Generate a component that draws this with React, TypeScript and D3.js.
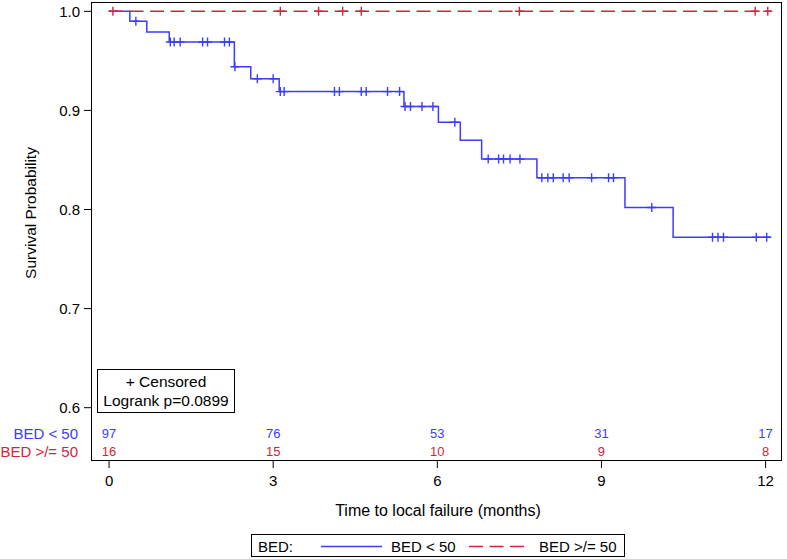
import React from "react";
import * as d3 from "d3";

// ---- data ----
const blueEventTimes = [0.38, 0.69, 1.10, 2.29, 2.59, 3.11, 5.39, 6.02, 6.42, 6.81, 7.82, 9.43, 10.31];
const blueSurvival = [0.990, 0.979, 0.969, 0.944, 0.932, 0.919, 0.904, 0.888, 0.870, 0.851, 0.832, 0.802, 0.772];
const blueCensorTimes = [
  0.49, 1.12, 1.19, 1.30, 1.71, 1.80, 2.11, 2.20, 2.30, 2.71, 3.00, 3.13, 3.20, 4.12, 4.21,
  4.61, 4.70, 5.09, 5.31, 5.41, 5.51, 5.72, 5.92, 6.32, 6.93, 7.12, 7.21, 7.33, 7.51, 7.91,
  8.02, 8.12, 8.30, 8.41, 8.82, 9.13, 9.22, 9.92, 11.03, 11.13, 11.23, 11.83, 12.02,
];
const redEventTimes: number[] = [];
const redSurvival: number[] = [];
const redCensorTimes = [0.07, 3.13, 3.83, 4.27, 4.61, 7.50, 11.81, 12.04];
const followUpEnd = 12.1;

const xTicks = [0, 3, 6, 9, 12];
const yTicks = [0.6, 0.7, 0.8, 0.9, 1.0];
const atRiskBlue = [97, 76, 53, 31, 17];
const atRiskRed = [16, 15, 10, 9, 8];
const groupLabels = ["BED < 50", "BED >/= 50"];
const logrankText = "Logrank p=0.0899";

const BLUE = "#3c3cff";
const RED = "#d0263a";
const FONT = "'Liberation Sans', Arial, sans-serif";

function stepPoints(times: number[], surv: number[], end: number): [number, number][] {
  const pts: [number, number][] = [[0, 1]];
  let s = 1;
  times.forEach((t, i) => {
    pts.push([t, s]);
    s = surv[i];
    pts.push([t, s]);
  });
  pts.push([end, s]);
  return pts;
}

function survAt(times: number[], surv: number[], t: number): number {
  let s = 1;
  times.forEach((et, i) => {
    if (et <= t) s = surv[i];
  });
  return s;
}

export default function App() {
  const W = 787;
  const H = 559;
  const left = 91, right = 782, top = 2, bottom = 461;

  const x = d3.scaleLinear().domain([-0.33, 12.3]).range([left, right]);
  const y = d3.scaleLinear().domain([0.5462, 1.0094]).range([bottom, top]);

  const line = d3
    .line<[number, number]>()
    .x((d) => x(d[0]))
    .y((d) => y(d[1]));

  const bluePath = line(stepPoints(blueEventTimes, blueSurvival, followUpEnd)) || "";
  const redPath = line(stepPoints(redEventTimes, redSurvival, followUpEnd)) || "";

  const cs = 4.5;
  const censorMark = (t: number, s: number, color: string, key: string) => {
    const cx = x(t);
    const cy = y(s);
    return (
      <path
        key={key}
        d={`M${cx - cs},${cy}H${cx + cs}M${cx},${cy - cs}V${cy + cs}`}
        stroke={color}
        strokeWidth={1.4}
        fill="none"
      />
    );
  };

  return (
    <div style={{ position: "absolute", left: 0, top: 0 }}>
      <svg width={W} height={H} style={{ display: "block", background: "#fff" }} fontFamily={FONT}>
        {/* y axis ticks */}
        {yTicks.map((v) => (
          <g key={"y" + v}>
            <line x1={left - 7} x2={left} y1={y(v)} y2={y(v)} stroke="#000" strokeWidth={1} />
            <text x={left - 11} y={y(v) + 5.3} fontSize={15} textAnchor="end" fill="#000">
              {v.toFixed(1)}
            </text>
          </g>
        ))}
        {/* x axis ticks */}
        {xTicks.map((v) => (
          <g key={"x" + v}>
            <line x1={x(v)} x2={x(v)} y1={bottom} y2={bottom + 7} stroke="#000" strokeWidth={1} />
            <text x={x(v)} y={486} fontSize={15} textAnchor="middle" fill="#000">
              {v}
            </text>
          </g>
        ))}

        {/* curves */}
        <path d={bluePath} stroke={BLUE} strokeWidth={1.5} fill="none" />
        {blueCensorTimes.map((t, i) =>
          censorMark(t, survAt(blueEventTimes, blueSurvival, t), BLUE, "bc" + i)
        )}
        <path d={redPath} stroke={RED} strokeWidth={1.5} fill="none" strokeDasharray="14 6.5" />
        {redCensorTimes.map((t, i) =>
          censorMark(t, survAt(redEventTimes, redSurvival, t), RED, "rc" + i)
        )}

        {/* at risk table */}
        {xTicks.map((v, i) => (
          <g key={"ar" + v}>
            <text x={x(v)} y={437.5} fontSize={13} textAnchor="middle" fill={BLUE}>
              {atRiskBlue[i]}
            </text>
            <text x={x(v)} y={455.5} fontSize={13} textAnchor="middle" fill={RED}>
              {atRiskRed[i]}
            </text>
          </g>
        ))}
        <text x={78} y={438.5} fontSize={15} textAnchor="end" fill={BLUE}>
          {groupLabels[0]}
        </text>
        <text x={78} y={456.5} fontSize={15} textAnchor="end" fill={RED}>
          {groupLabels[1]}
        </text>

        {/* inset box */}
        <rect x={97.5} y={369.5} width={137} height={43} fill="#fff" stroke="#000" strokeWidth={1} />
        <text x={166} y={386.5} fontSize={15.5} textAnchor="middle" fill="#000">
          + Censored
        </text>
        <text x={166} y={406} fontSize={15.5} textAnchor="middle" fill="#000">
          {logrankText}
        </text>

        {/* frame */}
        <rect x={left + 0.5} y={top + 0.5} width={right - left - 1} height={bottom - top - 1} fill="none" stroke="#000" strokeWidth={1} />

        {/* axis labels */}
        <text x={438} y={516} fontSize={16} textAnchor="middle" fill="#000">
          Time to local failure (months)
        </text>
        <text
          transform={`translate(36,213) rotate(-90)`}
          fontSize={15.5}
          textAnchor="middle"
          fill="#000"
        >
          Survival Probability
        </text>

        {/* legend */}
        <rect x={251.5} y={534.5} width={373} height={22} fill="#fff" stroke="#000" strokeWidth={1} />
        <text x={258} y={552} fontSize={15} fill="#000">BED:</text>
        <line x1={321} x2={382} y1={546.5} y2={546.5} stroke={BLUE} strokeWidth={1.5} />
        <text x={391} y={552} fontSize={15} fill="#000">{groupLabels[0]}</text>
        <line x1={469} x2={527} y1={546.5} y2={546.5} stroke={RED} strokeWidth={1.5} strokeDasharray="14 6.5" />
        <text x={539} y={552} fontSize={15} fill="#000">{groupLabels[1]}</text>
      </svg>
    </div>
  );
}
